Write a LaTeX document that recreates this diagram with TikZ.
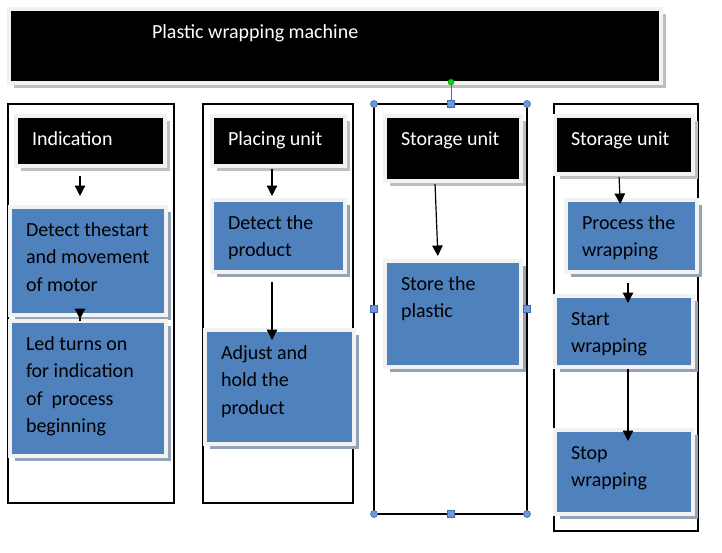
\documentclass[tikz,border=0pt]{standalone}
\usepackage{fontspec}
\setmainfont{Carlito}
\usetikzlibrary{shadows,arrows.meta,positioning}

\definecolor{unitBlue}{RGB}{79,129,189}
\definecolor{edgeGrey}{RGB}{242,242,242}
\definecolor{shadeGrey}{RGB}{191,191,191}
\definecolor{shadeBlue}{RGB}{149,163,182}
\definecolor{handleFill}{RGB}{107,153,222}
\definecolor{handleLine}{RGB}{65,105,170}
\definecolor{rotGreen}{RGB}{0,220,0}

% text block of a box: width, height of the coloured area, lines
\newcommand{\cellText}[3]{\parbox[c][\dimexpr#2pt-16pt\relax][t]{\dimexpr#1pt-28pt\relax}{\rightskip=0pt plus 1fil minus 40pt\strut#3}}

\begin{document}
\begin{tikzpicture}[x=1pt,y=-1pt,
  boxBase/.style={draw=edgeGrey, line width=4pt, inner xsep=16pt, inner ysep=10pt, font=\fontsize{20}{27.5}\selectfont},
  unitBox/.style={boxBase, fill=black, text=white, drop shadow={shadow xshift=4.5pt, shadow yshift=-5pt, fill=shadeGrey, opacity=1}},
  stepBox/.style={boxBase, fill=unitBlue, text=black, drop shadow={shadow xshift=4.5pt, shadow yshift=-5pt, fill=shadeBlue, opacity=1}},
  frameLine/.style={line width=1.2pt},
  flowArrow/.style={-{Triangle[length=10.5pt,width=10.5pt]}, line width=1.2pt},
  cornerHandle/.style={circle, draw=handleLine, fill=handleFill, inner sep=0pt, minimum size=7pt, line width=.6pt},
  sideHandle/.style={rectangle, draw=handleLine, fill=handleFill, inner sep=0pt, minimum size=7pt, line width=.6pt},
  rotHandle/.style={circle, draw=green!50!black, fill=rotGreen, inner sep=0pt, minimum size=6pt, line width=.4pt}]

\fill[white] (0,0) rectangle (722,552);
\useasboundingbox (0,0) rectangle (722,552);

% draw the title
\node[unitBox] (title) at (335,46) {\cellText{648}{70}{\hspace*{127pt}Plastic wrapping machine}};

% draw the column frames
\draw[frameLine] (8,104) rectangle (174,503);
\draw[frameLine] (203,104) rectangle (353,503);
\draw[frameLine] (374,104) rectangle (527,514);
\draw[frameLine] (554,104) rectangle (698,531);

% draw the unit headers
\node[unitBox] (ind) at (90.5,141) {\cellText{145}{46}{Indication}};
\node[unitBox] (plc) at (278.5,141) {\cellText{129}{46}{Placing unit}};
\node[unitBox] (sto) at (453,148.5) {\cellText{132}{61}{Storage unit}};
\node[unitBox] (stw) at (624,145) {\cellText{134}{54}{Storage unit}};

% draw the steps
\node[stepBox] (detA) at (88,261) {\cellText{152}{104}{Detect thestart\\and movement\\of motor}};
\node[stepBox] (led) at (88,388.5) {\cellText{152}{131}{Led turns on\\for indication\\of~ process\\beginning}};
\node[stepBox] (detP) at (278.5,236) {\cellText{129}{68}{Detect the\\product}};
\node[stepBox] (adj) at (279.5,387) {\cellText{145}{110}{Adjust and\\hold the\\product}};
\node[stepBox] (store) at (453,314) {\cellText{132}{102}{Store the\\plastic}};
\node[stepBox] (proc) at (631.5,236) {\cellText{127}{68}{Process the\\wrapping}};
\node[stepBox] (start) at (624,331.5) {\cellText{134}{67}{Start\\wrapping}};
\node[stepBox] (stop) at (624,472) {\cellText{134}{80}{Stop\\wrapping}};

% draw the arrows
\draw[flowArrow, shorten <=8pt, shorten >=9pt] ([xshift=-10.5pt]ind.south) -- ([xshift=-8pt]detA.north);
\draw[flowArrow, shorten <=-4pt] ([xshift=-8pt]detA.south) -- ([xshift=-8pt]led.north);
\draw[flowArrow, shorten <=1pt, shorten >=2pt] ([xshift=-6.5pt]plc.south) -- ([xshift=-6.5pt]detP.north);
\draw[flowArrow, shorten <=8pt, shorten >=-12pt] ([xshift=-6.5pt]detP.south) -- ([xshift=-7.5pt]adj.north);
\draw[flowArrow, shorten <=1pt, shorten >=3pt] ([xshift=-18pt]sto.south) -- ([xshift=-15pt]store.north);
\draw[flowArrow, shorten <=1pt, shorten >=-6pt] ([xshift=-5pt]stw.south) -- ([xshift=-11.5pt]proc.north);
\draw[flowArrow, shorten <=9pt, shorten >=-9pt] ([xshift=-3.5pt]proc.south) -- ([xshift=4pt]start.north);
\draw[flowArrow, shorten >=-13pt] ([xshift=4pt]start.south) -- ([xshift=4pt]stop.north);

% draw the selection handles
\node[rotHandle] (rot) at (451,82) {};
\foreach \hx/\hy [count=\hi] in {451/104,451/514,374/309,527/309}
  \node[sideHandle] (side\hi) at (\hx,\hy) {};
\foreach \hx/\hy [count=\hi] in {374/104,527/104,374/514,527/514}
  \node[cornerHandle] (corner\hi) at (\hx,\hy) {};
\draw[handleLine, line width=.8pt] (rot) -- (side1);

\end{tikzpicture}
\end{document}
